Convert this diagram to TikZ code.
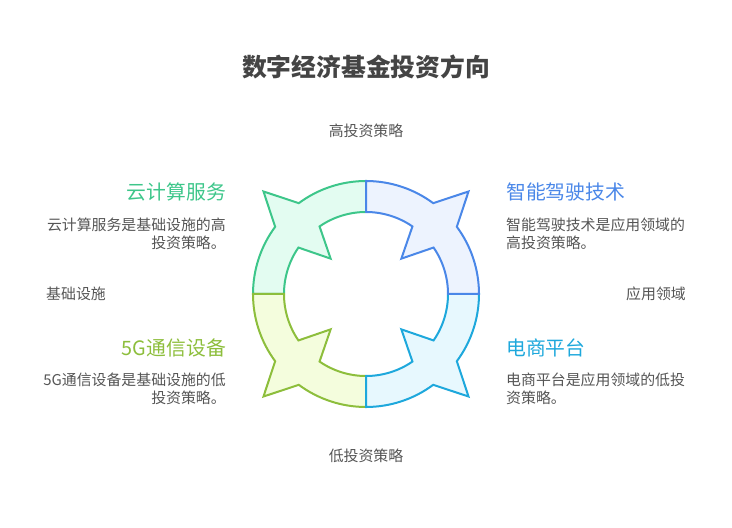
\documentclass[tikz,border=0pt]{standalone}
\usepackage{fontspec}
\setmainfont{Noto Sans CJK SC}
\usepackage{tikz}
\usetikzlibrary{positioning}
\definecolor{cloudline}{HTML}{3DC68A}
\definecolor{cloudfill}{HTML}{E3FCF1}
\definecolor{driveline}{HTML}{4A87E8}
\definecolor{drivefill}{HTML}{EDF3FE}
\definecolor{shopline}{HTML}{1EA8DC}
\definecolor{shopfill}{HTML}{E7F8FE}
\definecolor{fivegline}{HTML}{8DBE3C}
\definecolor{fivegfill}{HTML}{F4FDDD}
\definecolor{textgray}{HTML}{555555}
\definecolor{titlegray}{HTML}{444444}

\begin{document}
\begin{tikzpicture}[x=1pt, y=1pt]
% STYLES
\tikzset{%
    quarter/.style={%
    line width=2pt,
    line join=miter},
    heading/.style={%
    inner sep=0pt,
    font=\fontsize{19.8}{23}\selectfont},
    body/.style={%
    inner sep=0pt,
    text=textgray,
    font=\fontsize{14.9}{18}\selectfont},
    axislabel/.style={%
    inner sep=0pt,
    text=textgray,
    font=\fontsize{14.9}{18}\selectfont}
    }
\useasboundingbox (0,0) rectangle (732,528);

% Draw title
\node [inner sep=0pt, text=titlegray, font=\fontsize{24.8}{28}\bfseries] (Title) at (366,461) {数字经济基金投资方向};

% Draw ring quarters
\begin{scope}[shift={(366,234)}]
\foreach \rot/\lc/\fc in {0/cloudline/cloudfill, 90/fivegline/fivegfill, 180/shopline/shopfill, -90/driveline/drivefill}
{
\draw [quarter, rotate=\rot, draw=\lc, fill=\fc]
(90:113) arc[start angle=90, end angle=126.5, radius=113pt] -- (135:145) -- (143.5:113)
arc[start angle=143.5, end angle=180, radius=113pt] -- (180:82)
arc[start angle=180, end angle=145.5, radius=82pt] -- (135:50) -- (124.5:82)
arc[start angle=124.5, end angle=90, radius=82pt] -- cycle;
}
\end{scope}

% Draw axis labels
\node [axislabel] (High) at (366,397) {高投资策略};
\node [axislabel] (Low) at (366,72) {低投资策略};
\node [axislabel, anchor=west] (Base) at (46,234) {基础设施};
\node [axislabel, anchor=east] (Apply) at (686,234) {应用领域};

% Draw headings and texts
\node [heading, anchor=east, text=cloudline] (Cloud) at (226,336) {云计算服务};
\node [body, anchor=east, align=right] (CloudText) at (226,294) {云计算服务是基础设施的高\\投资策略。};
\node [heading, anchor=east, text=fivegline] (FiveG) at (226,180) {5G通信设备};
\node [body, anchor=east, align=right] (FiveGText) at (226,139) {5G通信设备是基础设施的低\\投资策略。};
\node [heading, anchor=west, text=driveline] (Drive) at (506,336) {智能驾驶技术};
\node [body, anchor=west, align=left] (DriveText) at (506,294) {智能驾驶技术是应用领域的\\高投资策略。};
\node [heading, anchor=west, text=shopline] (Shop) at (506,180) {电商平台};
\node [body, anchor=west, align=left] (ShopText) at (506,139) {电商平台是应用领域的低投\\资策略。};

\end{tikzpicture}
\end{document}
